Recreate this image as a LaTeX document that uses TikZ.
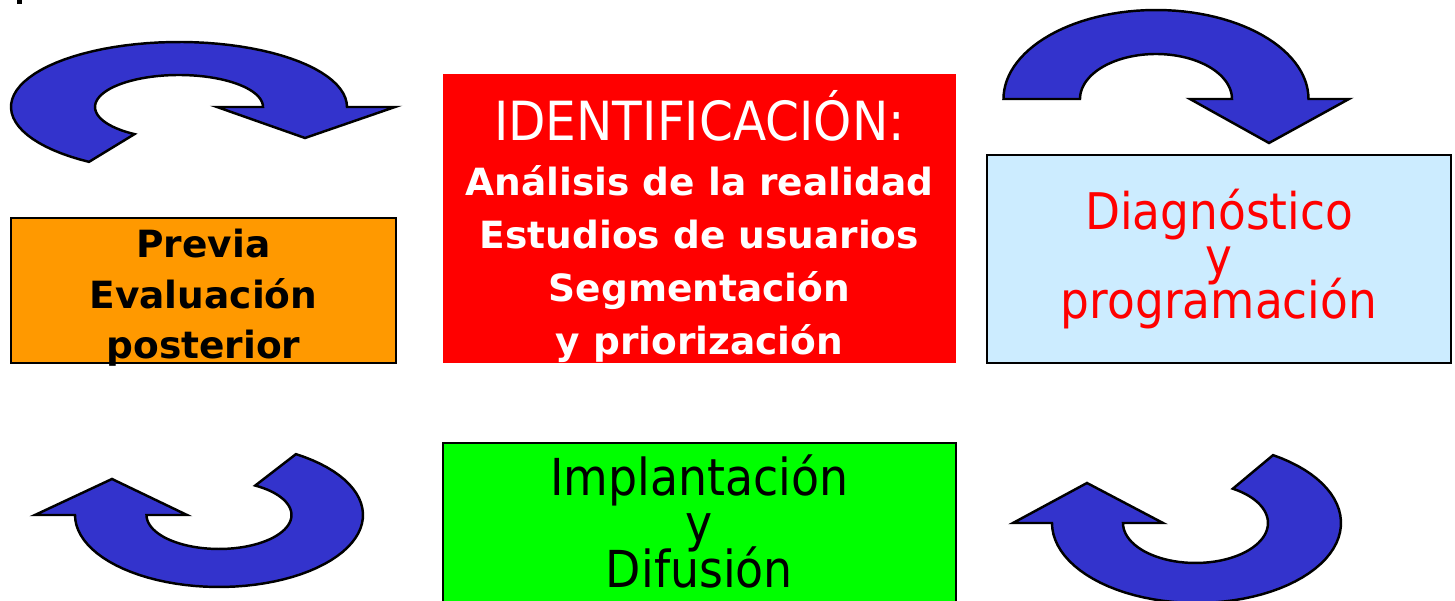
\documentclass[tikz,border=0pt]{standalone}
\usepackage{fontspec}
\setmainfont{DejaVu Sans}
\newfontfamily\fina[FakeStretch=0.9]{DejaVu Sans}
\usepackage{xcolor}
\usepackage{tikz}
\definecolor{azulflecha}{HTML}{3333CC}
\definecolor{naranja}{HTML}{FF9900}
\definecolor{celeste}{HTML}{CCECFF}
\definecolor{verde}{HTML}{00FF00}
\definecolor{rojo}{HTML}{FF0000}

\begin{document}
\begin{tikzpicture}[x=0.1mm, y=-0.1mm,
    flecha/.style={draw=black, line width=0.7pt, fill=azulflecha, line join=miter},
    caja/.style={draw=black, line width=0.6pt},
    texto/.style={inner sep=0pt, anchor=north, align=center}]
    \path[use as bounding box, clip] (0,0) rectangle (1455,601);
    \fill (17,0) rectangle (22,4);

    % flechas de arriba
    \draw[flecha] plot[domain=-237.6:0, samples=60] ({179+168*cos(\x)}, {107+65*sin(\x)})
        -- (395,107) -- (305,138) -- (217,107)
        -- plot[domain=0:-238, samples=60] ({179+84*cos(\x)}, {107+32*sin(\x)}) -- cycle;
    \draw[flecha] plot[domain=-180:0, samples=60] ({1156+152.5*cos(\x)}, {99+89*sin(\x)})
        -- (1349,99) -- (1269,143) -- (1190,99)
        -- plot[domain=0:-180, samples=60] ({1156+76*cos(\x)}, {99+45*sin(\x)}) -- cycle;

    % flechas de abajo
    \draw[flecha] plot[domain=-57.7:180, samples=60] ({219+144*cos(\x)}, {515+72*sin(\x)})
        -- (35,515) -- (112,479) -- (187,515)
        -- plot[domain=180:-60, samples=60] ({219+72.5*cos(\x)}, {515+34*sin(\x)}) -- cycle;
    \draw[flecha] plot[domain=-58:180, samples=60] ({1196.5+144.5*cos(\x)}, {523+80*sin(\x)})
        -- (1013,523) -- (1087,483) -- (1163,523)
        -- plot[domain=180:-59, samples=60] ({1195.5+72.5*cos(\x)}, {523+40*sin(\x)}) -- cycle;

    % Previa / Evaluacion posterior
    \draw[caja, fill=naranja] (11,218) rectangle (396,363);
    \node[texto, font=\bfseries\fontsize{10.67}{14.37}\selectfont] (previa) at (203.5,228.5)
        {Previa\\Evaluación\\posterior};

    % Identificacion
    \fill[rojo] (443,74) rectangle (956,363);
    \node[texto, text=white, font=\bfseries\fontsize{10.67}{15}\selectfont] (identificacion) at (699.5,90)
        {{\fina\mdseries\fontsize{15.36}{15}\selectfont IDENTIFICACIÓN:}\\[0.7pt]
         Análisis de la realidad\\Estudios de usuarios\\Segmentación\\y priorización};

    % Diagnostico y programacion
    \draw[caja, fill=celeste] (987,155) rectangle (1451,363);
    \node[texto, text=rojo, font={\fina\fontsize{14.37}{12.66}\selectfont\lineskiplimit=-20pt}] (diagnostico) at (1219,188.6)
        {Diagnóstico\\y\\programación};

    % Implantacion y difusion
    \draw[caja, fill=verde] (443,443) rectangle (956,640);
    \node[texto, font={\fina\fontsize{14.5}{13.1}\selectfont\lineskiplimit=-20pt}] (implantacion) at (699.5,454)
        {Implantación\\y\\Difusión};
\end{tikzpicture}
\end{document}
